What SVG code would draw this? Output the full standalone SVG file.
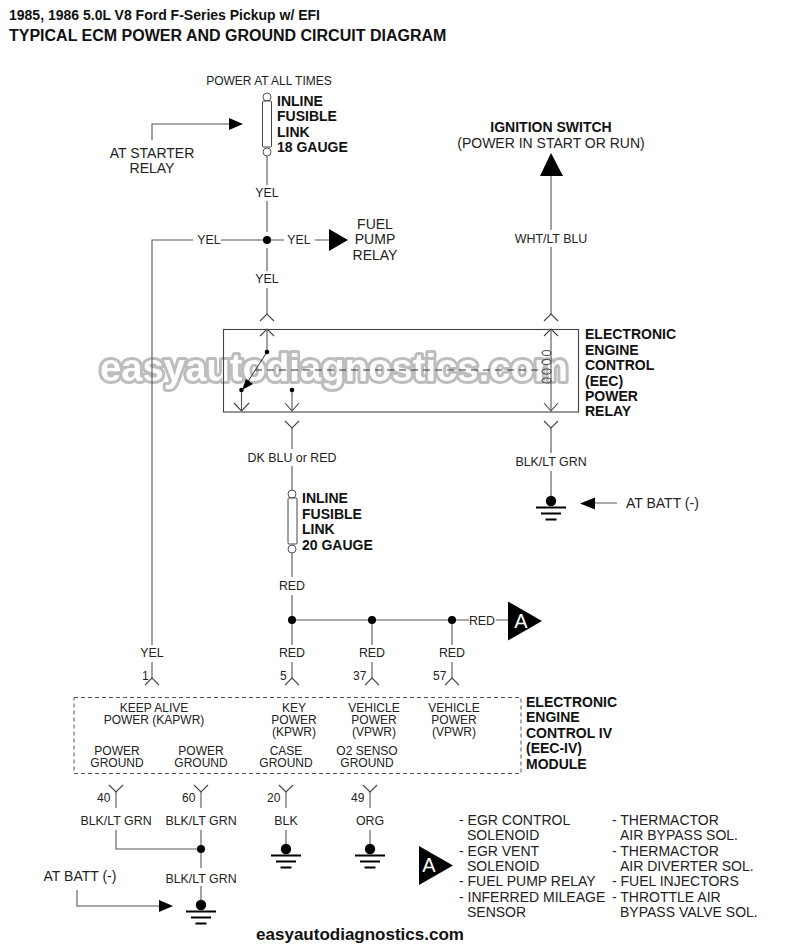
<svg xmlns="http://www.w3.org/2000/svg" width="800" height="950" viewBox="0 0 800 950">
<defs>
<style>
text{font-family:"Liberation Sans",Arial,sans-serif;fill:#222;font-size:12.5px}
.m{text-anchor:middle}
.b{font-weight:bold;font-size:14px;fill:#111}
.n{font-size:12px}
.c{font-size:12.4px}
.l{font-size:14px}
.w{fill:none;stroke:#555;stroke-width:1.1}
.d{fill:#000}
.k{fill:none;stroke:#444;stroke-width:1.1}
.g{stroke:#000;stroke-width:2}
.wm{font-family:"Liberation Sans",Arial,sans-serif;font-weight:bold;font-size:38.500px;fill:#fcfcfc;stroke:#bdbdbd;stroke-width:6;stroke-linejoin:round;paint-order:stroke;text-anchor:start}
.at{fill:#fff;font-size:20px}
</style>
<filter id="soft" x="-2%" y="-10%" width="104%" height="120%"><feGaussianBlur stdDeviation="0.7"/></filter>
<g id="gnd"><circle cx="0" cy="0" r="5.200" class="d"/><path class="g" d="M-15 6.500H15M-10 12.500H10M-5.500 18.500H5.500"/></g>
<g id="tri"><path class="d" d="M0-19.500 34 0 0 19.500Z"/></g>
</defs>
<rect width="800" height="950" fill="#fff"/>
<g id="title"><text class="b" x="9" y="20">1985, 1986 5.0L V8 Ford F-Series Pickup w/ EFI</text><text class="b" x="9" y="41" style="font-size:16px">TYPICAL ECM POWER AND GROUND CIRCUIT DIAGRAM</text></g>
<text id="watermark" class="wm" x="100" y="381" textLength="468" lengthAdjust="spacingAndGlyphs" filter="url(#soft)">easyautodiagnostics.com</text>
<g id="connectors">
<path class="w" d="M267 156V185M267 201V232M267 248V271M267 288V314"/>
<path class="w" d="M152 645V240H193M221 240H267M267 240H284M315 240H330"/>
<path class="w" d="M152 140V124H231"/>
<path class="w" d="M551 175V230M551 247V314"/>
<path class="w" d="M551 428V453M551 471V497"/>
<path class="w" d="M292 428V449M292 466V490M292 553V577M292 595V645"/>
<path class="w" d="M292 620H469M496 620H509M372 620V645M452 620V645"/>
<path class="w" d="M292 662V678M372 662V678M452 662V678M152 662V678"/>
<path class="w" d="M116 792V808M116 830V849H201M201 792V808M201 830V868M201 886V900M286 792V808M286 830V845M370 792V808M370 830V845"/>
<path class="w" d="M77 890V906H160M595 503H617"/>
<path class="k" d="M260 321 267 314 274 321M544 321 551 314 558 321"/>
<path class="k" d="M285 421 292 428 299 421M544 421 551 428 558 421"/>
<path class="k" d="M145 685 152 678 159 685M285 685 292 678 299 685M365 685 372 678 379 685M445 685 452 678 459 685"/>
<path class="k" d="M109 785 116 792 123 785M194 785 201 792 208 785M279 785 286 792 293 785M363 785 370 792 377 785"/>
<path class="d" d="M229 118 243 124 229 130ZM159 900 173 906 159 912ZM580 503.500 595 497.500 595 509.500Z"/>
<path class="d" d="M329 229 348 240 329 251ZM551 153 563 176 540 176Z"/>
<circle class="d" cx="267" cy="240" r="4"/>
<circle class="d" cx="292" cy="620" r="4"/><circle class="d" cx="372" cy="620" r="4"/><circle class="d" cx="452" cy="620" r="4"/>
<circle class="d" cx="201" cy="849" r="4"/>
</g>
<g id="fuse-18">
<circle cx="267" cy="97" r="4" fill="#fff" stroke="#555"/><circle cx="267" cy="152" r="4" fill="#fff" stroke="#555"/>
<rect x="262.500" y="101" width="9" height="46" rx="1" fill="#fff" stroke="#444"/>
<text class="b" x="277" y="106">INLINE</text><text class="b" x="277" y="121">FUSIBLE</text><text class="b" x="277" y="137">LINK</text><text class="b" x="277" y="152">18 GAUGE</text>
<text class="n m" x="269" y="85">POWER AT ALL TIMES</text>
</g>
<g id="fuse-20">
<circle cx="292" cy="494" r="4" fill="#fff" stroke="#555"/><circle cx="292" cy="549" r="4" fill="#fff" stroke="#555"/>
<rect x="288" y="498" width="9" height="46" rx="1" fill="#fff" stroke="#444"/>
<text class="b" x="302" y="503">INLINE</text><text class="b" x="302" y="519">FUSIBLE</text><text class="b" x="302" y="534">LINK</text><text class="b" x="302" y="550">20 GAUGE</text>
</g>
<g id="wire-labels">
<text class="c m" x="267" y="197">YEL</text><text class="c m" x="209" y="244">YEL</text><text class="c m" x="299" y="244">YEL</text><text class="c m" x="267" y="283">YEL</text>
<text class="c m" x="551" y="243">WHT/LT BLU</text><text class="c m" x="292" y="462">DK BLU or RED</text><text class="c m" x="551" y="466">BLK/LT GRN</text>
<text class="c m" x="292" y="590">RED</text><text class="c m" x="482" y="625">RED</text>
<text class="c m" x="152" y="657">YEL</text><text class="c m" x="292" y="657">RED</text><text class="c m" x="372" y="657">RED</text><text class="c m" x="452" y="657">RED</text>
<text class="n" x="142" y="680">1</text><text class="n" x="280" y="680">5</text><text class="n" x="353" y="680">37</text><text class="n" x="433" y="680">57</text>
<text class="n" x="97" y="802">40</text><text class="n" x="182" y="802">60</text><text class="n" x="267" y="802">20</text><text class="n" x="351" y="802">49</text>
<text class="c m" x="116" y="825">BLK/LT GRN</text><text class="c m" x="201" y="825">BLK/LT GRN</text><text class="c m" x="286" y="825">BLK</text><text class="c m" x="370" y="825">ORG</text><text class="c m" x="201" y="883">BLK/LT GRN</text>
</g>
<g id="starter"><text class="l m" x="152" y="158">AT STARTER</text><text class="l m" x="152" y="173">RELAY</text></g>
<g id="fuel-pump"><text class="l m" x="375" y="229">FUEL</text><text class="l m" x="375" y="244">PUMP</text><text class="l m" x="375" y="260">RELAY</text></g>
<g id="ignition"><text class="b m" x="551" y="132">IGNITION SWITCH</text><text class="l m" x="551" y="148">(POWER IN START OR RUN)</text></g>
<g id="relay">
<rect x="223.500" y="329.500" width="355" height="82.500" fill="none" stroke="#444" stroke-width="1.100"/>
<path class="k" d="M260 336 267 329 274 336M544 336 551 329 558 336M234 403 241.500 411 249 403M285 403 292 411 299 403M544 403 551 411 558 403"/>
<path class="w" d="M267 329V352M241.500 390V411M292 390V411M551 329V411"/>
<path fill="none" stroke="#333" d="M267 352 245 386"/>
<path class="d" d="M242 390 246 379 253 384Z"/>
<circle class="d" cx="267" cy="352" r="2.300"/><circle class="d" cx="241.500" cy="390" r="2.300"/><circle class="d" cx="292" cy="390" r="2.300"/>
<path fill="none" stroke="#333" stroke-dasharray="7 5" d="M255 370H541"/>
<g fill="none" stroke="#333"><ellipse cx="546.500" cy="353" rx="4.500" ry="2.500"/><ellipse cx="546.500" cy="362" rx="4.500" ry="2.500"/><ellipse cx="546.500" cy="371.500" rx="4.500" ry="2.500"/><ellipse cx="546.500" cy="380.500" rx="4.500" ry="2.500"/></g>
<text class="b" x="585" y="339">ELECTRONIC</text><text class="b" x="585" y="355">ENGINE</text><text class="b" x="585" y="370">CONTROL</text><text class="b" x="585" y="386">(EEC)</text><text class="b" x="585" y="401">POWER</text><text class="b" x="585" y="416">RELAY</text>
</g>
<g id="gnd-relay"><use href="#gnd" x="551" y="501"/><text class="l" x="626" y="508">AT BATT (-)</text></g>
<g id="triangle-a1"><use href="#tri" x="508" y="621"/><text x="521" y="628" class="m at">A</text></g>
<g id="ecm">
<rect x="74" y="697.500" width="447" height="76" fill="none" stroke="#555" stroke-dasharray="4 3"/>
<text class="n m" x="154" y="712">KEEP ALIVE</text><text class="n m" x="154" y="724">POWER (KAPWR)</text>
<text class="n m" x="294" y="712">KEY</text><text class="n m" x="294" y="724">POWER</text><text class="n m" x="294" y="736">(KPWR)</text>
<text class="n m" x="374" y="712">VEHICLE</text><text class="n m" x="374" y="724">POWER</text><text class="n m" x="374" y="736">(VPWR)</text>
<text class="n m" x="454" y="712">VEHICLE</text><text class="n m" x="454" y="724">POWER</text><text class="n m" x="454" y="736">(VPWR)</text>
<text class="n m" x="117" y="755">POWER</text><text class="n m" x="117" y="767">GROUND</text><text class="n m" x="201" y="755">POWER</text><text class="n m" x="201" y="767">GROUND</text>
<text class="n m" x="286" y="755">CASE</text><text class="n m" x="286" y="767">GROUND</text><text class="n m" x="367" y="755">O2 SENSO</text><text class="n m" x="367" y="767">GROUND</text>
<text class="b" x="526" y="707">ELECTRONIC</text><text class="b" x="526" y="722">ENGINE</text><text class="b" x="526" y="738">CONTROL IV</text><text class="b" x="526" y="753">(EEC-IV)</text><text class="b" x="526" y="769">MODULE</text>
</g>
<g id="grounds"><use href="#gnd" x="286" y="849"/><use href="#gnd" x="370" y="849"/><use href="#gnd" x="201" y="905"/></g>
<g id="batt-2"><text class="l m" x="80" y="881">AT BATT (-)</text></g>
<g id="triangle-a2"><use href="#tri" x="419" y="865.500"/><text x="429" y="872" class="m at">A</text></g>
<g id="legend">
<text class="l" x="459" y="825">- EGR CONTROL</text><text class="l" x="467" y="840">SOLENOID</text><text class="l" x="459" y="856">- EGR VENT</text><text class="l" x="467" y="871">SOLENOID</text><text class="l" x="459" y="886">- FUEL PUMP RELAY</text><text class="l" x="459" y="902">- INFERRED MILEAGE</text><text class="l" x="467" y="917">SENSOR</text>
<text class="l" x="612" y="825">- THERMACTOR</text><text class="l" x="620" y="840">AIR BYPASS SOL.</text><text class="l" x="612" y="856">- THERMACTOR</text><text class="l" x="620" y="871">AIR DIVERTER SOL.</text><text class="l" x="612" y="886">- FUEL INJECTORS</text><text class="l" x="612" y="902">- THROTTLE AIR</text><text class="l" x="620" y="917">BYPASS VALVE SOL.</text>
</g>
<text id="footer" class="b m" x="360" y="940" style="font-size:17px">easyautodiagnostics.com</text>
</svg>
